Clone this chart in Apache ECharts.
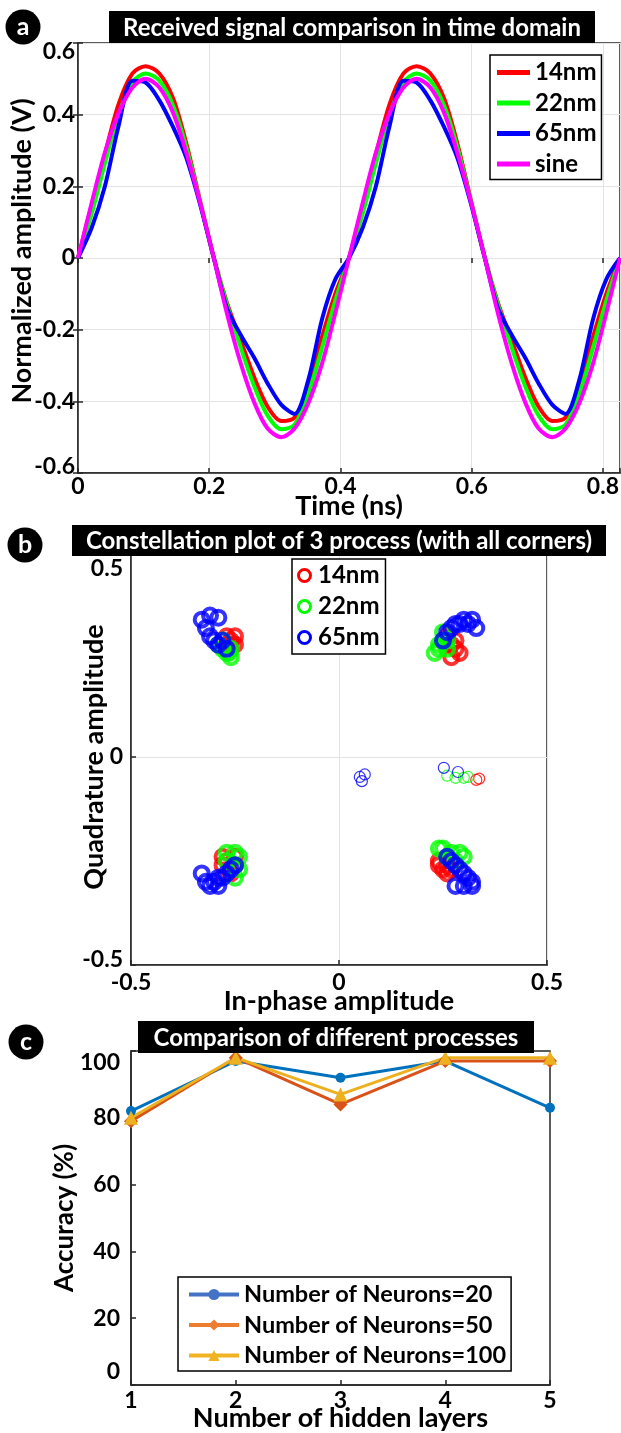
<!DOCTYPE html>
<html>
<head>
<meta charset="utf-8">
<script src="https://cdn.jsdelivr.net/npm/echarts@6/dist/echarts.min.js"></script>
<style>
  html, body { margin: 0; padding: 0; background: #fff; }
  #chart { width: 621px; height: 1433px; }
</style>
</head>
<body>
<div id="chart"></div>
<script>
// ---- (a) received signal in time domain ----
var timeNs = [0, 0.021, 0.041, 0.062, 0.083, 0.103, 0.124, 0.145, 0.165, 0.186, 0.207, 0.227, 0.248, 0.269, 0.289, 0.310, 0.330, 0.351, 0.372, 0.392,
    0.413, 0.434, 0.454, 0.475, 0.496, 0.516, 0.537, 0.558, 0.578, 0.599, 0.620, 0.640, 0.661, 0.682, 0.702, 0.723, 0.743, 0.764, 0.785, 0.805, 0.826];
var amp14nm = [0, 0.147, 0.29, 0.43, 0.515, 0.535, 0.515, 0.445, 0.32, 0.16, 0, -0.125, -0.23, -0.335, -0.415, -0.455, -0.445, -0.36, -0.22, -0.10,
    0, 0.147, 0.29, 0.43, 0.515, 0.535, 0.515, 0.445, 0.32, 0.16, 0, -0.125, -0.23, -0.335, -0.415, -0.455, -0.445, -0.36, -0.22, -0.10, 0];
var amp22nm = [0, 0.125, 0.265, 0.40, 0.49, 0.515, 0.495, 0.425, 0.31, 0.155, 0, -0.13, -0.25, -0.36, -0.44, -0.478, -0.465, -0.38, -0.25, -0.12,
    0, 0.125, 0.265, 0.40, 0.49, 0.515, 0.495, 0.425, 0.31, 0.155, 0, -0.13, -0.25, -0.36, -0.44, -0.478, -0.465, -0.38, -0.25, -0.12, 0];
var amp65nm = [0, 0.085, 0.20, 0.37, 0.495, 0.49, 0.44, 0.365, 0.28, 0.15, 0, -0.14, -0.215, -0.28, -0.35, -0.41, -0.435, -0.34, -0.17, -0.06,
    0, 0.085, 0.20, 0.37, 0.495, 0.49, 0.44, 0.365, 0.28, 0.15, 0, -0.14, -0.215, -0.28, -0.35, -0.41, -0.435, -0.34, -0.17, -0.06, 0];
var ampSine = [0, 0.155, 0.294, 0.405, 0.476, 0.5, 0.476, 0.405, 0.294, 0.155, 0, -0.155, -0.294, -0.405, -0.476, -0.5, -0.476, -0.405, -0.294, -0.155,
    0, 0.155, 0.294, 0.405, 0.476, 0.5, 0.476, 0.405, 0.294, 0.155, 0, -0.155, -0.294, -0.405, -0.476, -0.5, -0.476, -0.405, -0.294, -0.155, 0];

// ---- (b) constellation points [I, Q] ----
var iq14nm = [[-0.27, 0.29], [-0.26, 0.28], [-0.25, 0.29], [-0.26, 0.27], [-0.25, 0.27], [-0.27, 0.27],
    [0.26, 0.29], [0.27, 0.27], [0.28, 0.26], [0.27, 0.24], [0.29, 0.25], [0.28, 0.28],
    [-0.28, -0.24], [-0.28, -0.26], [-0.27, -0.25], [-0.25, -0.24], [-0.25, -0.26], [-0.26, -0.28],
    [0.24, -0.25], [0.25, -0.27], [0.26, -0.28], [0.27, -0.27], [0.26, -0.26], [0.24, -0.26]];
var iq14nmOut = [[0.33, -0.055], [0.337, -0.052]];
var iq22nm = [[-0.29, 0.27], [-0.28, 0.26], [-0.27, 0.25], [-0.26, 0.24], [-0.26, 0.26], [-0.28, 0.28], [-0.265, 0.25],
    [0.23, 0.25], [0.24, 0.26], [0.24, 0.27], [0.25, 0.28], [0.26, 0.28], [0.25, 0.30], [0.26, 0.26],
    [-0.27, -0.23], [-0.25, -0.23], [-0.24, -0.24], [-0.25, -0.26], [-0.24, -0.27], [-0.25, -0.29], [-0.27, -0.25],
    [0.24, -0.22], [0.25, -0.22], [0.27, -0.23], [0.29, -0.23], [0.30, -0.24], [0.28, -0.25], [0.26, -0.24]];
var iq22nmOut = [[0.26, -0.045], [0.28, -0.05], [0.30, -0.05], [0.31, -0.048]];
var iq65nm = [[-0.33, 0.33], [-0.31, 0.34], [-0.29, 0.335], [-0.32, 0.31], [-0.31, 0.29], [-0.30, 0.28], [-0.29, 0.27], [-0.27, 0.26], [-0.28, 0.28],
    [0.25, 0.28], [0.26, 0.30], [0.27, 0.31], [0.28, 0.32], [0.29, 0.32], [0.30, 0.33], [0.32, 0.33], [0.33, 0.31], [0.31, 0.32],
    [-0.33, -0.28], [-0.32, -0.30], [-0.31, -0.31], [-0.30, -0.30], [-0.29, -0.29], [-0.28, -0.29], [-0.27, -0.28], [-0.26, -0.27], [-0.25, -0.26], [-0.29, -0.31],
    [0.26, -0.24], [0.27, -0.25], [0.28, -0.26], [0.29, -0.27], [0.30, -0.28], [0.31, -0.29], [0.32, -0.30], [0.28, -0.31], [0.30, -0.31], [0.32, -0.31]];
var iq65nmOut = [[0.05, -0.048], [0.062, -0.042], [0.055, -0.058], [0.252, -0.026], [0.286, -0.036]];

// ---- (c) accuracy vs hidden layers ----
var hiddenLayers = [1, 2, 3, 4, 5];
var acc20 = [82, 97, 92, 97, 83];
var acc50 = [79, 98, 84, 97, 97];
var acc100 = [80, 98, 87, 98, 98];

var FONT = 'Lato';
var AX = '#262626';

function pairs(xs, ys) {
    return xs.map(function (x, i) { return [x, ys[i]]; });
}
function num(v) {
    return String(parseFloat(v.toFixed(3)));
}
// moves the top / bottom tick labels a bit inwards, like the original figure
function edgeFmt(minV, maxV, step) {
    return function (v) {
        if (step && Math.abs(v / step - Math.round(v / step)) > 1e-6) return '';
        if (Math.abs(v - maxV) < 1e-9) return '{dn|' + num(v) + '}';
        if (Math.abs(v - minV) < 1e-9) return '{up|' + num(v) + '}';
        return num(v);
    };
}
function lab(dn, up, margin) {
    var base = {fontFamily: FONT, fontWeight: 'bold', fontSize: 23, color: '#000'};
    return {
        fontFamily: FONT, fontWeight: 'bold', fontSize: 23, color: '#000', margin: margin,
        rich: {
            dn: Object.assign({padding: [dn, 0, 0, 0]}, base),
            up: Object.assign({padding: [0, 0, up, 0]}, base)
        }
    };
}
function nameStyle(size, pad) {
    return {fontFamily: FONT, fontWeight: 'bold', fontSize: size, color: '#000', padding: pad || 0};
}
var tick = {inside: true, length: 5, lineStyle: {color: AX, width: 1.5}};
var axLine = {show: true, onZero: false, lineStyle: {color: AX, width: 1.5}};
var grid0 = {show: true, borderColor: AX, borderWidth: 1.5, outerBoundsMode: 'none', containLabel: false};
var gridLine = {show: true, lineStyle: {color: '#e3e3e3', width: 1}};

function titleBox(x, y, w, h, text) {
    return [
        {type: 'rect', z: 100, shape: {x: x, y: y, width: w, height: h}, style: {fill: '#000'}},
        {type: 'text', z: 101, x: x + w / 2, y: y + h / 2 + 1,
            style: {text: text, fill: '#fff', font: 'bold 24px ' + FONT, align: 'center', verticalAlign: 'middle'}}
    ];
}
function badge(cx, cy, t) {
    return [
        {type: 'circle', z: 100, shape: {cx: cx, cy: cy, r: 17.5}, style: {fill: '#000'}},
        {type: 'text', z: 101, x: cx, y: cy,
            style: {text: t, fill: '#fff', font: 'bold 25px ' + FONT, align: 'center', verticalAlign: 'middle'}}
    ];
}
function lineSeries(name, data, color) {
    return {
        name: name, type: 'line', xAxisIndex: 0, yAxisIndex: 0, data: data,
        showSymbol: false, smooth: 0.3, color: color,
        lineStyle: {width: 4, color: color}
    };
}
function dots(name, data, color, size, bw) {
    return {
        name: name, type: 'scatter', xAxisIndex: 2, yAxisIndex: 2, data: data,
        symbol: 'circle', symbolSize: size, color: color,
        itemStyle: {color: 'rgba(0,0,0,0)', borderColor: color, borderWidth: bw}
    };
}
function accSeries(name, data, color, symbol, size) {
    return {
        name: name, type: 'line', xAxisIndex: 3, yAxisIndex: 3, data: data,
        symbol: symbol, symbolSize: size, showSymbol: true, color: color,
        lineStyle: {width: 3, color: color}, itemStyle: {color: color}
    };
}

var myChart = echarts.init(document.getElementById('chart'));

var option = {
    animation: false,
    backgroundColor: '#fff',
    grid: [
        Object.assign({left: 78, right: 1, top: 43, bottom: 960}, grid0),
        Object.assign({left: 131, right: 74, top: 549, bottom: 468}, grid0),
        Object.assign({left: 131, right: 71, top: 1051, bottom: 48}, grid0)
    ],
    xAxis: [
        {
            gridIndex: 0, type: 'value', min: 0, max: 0.826, interval: 0.2,
            name: 'Time (ns)', nameLocation: 'middle', nameGap: 20, nameMoveOverlap: false,
            nameTextStyle: nameStyle(27),
            axisLine: axLine, axisTick: tick,
            axisLabel: Object.assign(lab(0, 0, 2), {formatter: edgeFmt(-99, 99, 0.2)}),
            splitLine: gridLine
        },
        {
            gridIndex: 0, type: 'value', position: 'top', min: 0, max: 0.826, interval: 0.2,
            axisLine: {show: false}, axisTick: tick, axisLabel: {show: false}, splitLine: {show: false}
        },
        {
            gridIndex: 1, type: 'value', min: -0.5, max: 0.5, interval: 0.5,
            name: 'In-phase amplitude', nameLocation: 'middle', nameGap: 23, nameMoveOverlap: false,
            nameTextStyle: nameStyle(27),
            axisLine: axLine, axisTick: tick,
            axisLabel: Object.assign(lab(0, 0, 6), {formatter: edgeFmt(-99, 99)}),
            splitLine: gridLine
        },
        {
            gridIndex: 2, type: 'value', min: 1, max: 5, interval: 1,
            name: 'Number of hidden layers', nameLocation: 'middle', nameGap: 20, nameMoveOverlap: false,
            nameTextStyle: nameStyle(27),
            axisLine: axLine, axisTick: tick,
            axisLabel: Object.assign(lab(0, 0, 4), {formatter: edgeFmt(-99, 99)}),
            splitLine: {show: false}
        }
    ],
    yAxis: [
        {
            gridIndex: 0, type: 'value', min: -0.6, max: 0.6, interval: 0.2,
            name: 'Normalized amplitude (V)', nameLocation: 'middle', nameGap: 42, nameMoveOverlap: false,
            nameTextStyle: nameStyle(27, [0, 0, 0, 14]),
            axisLine: axLine, axisTick: tick,
            axisLabel: Object.assign(lab(18, 12, 3), {formatter: edgeFmt(-0.6, 0.6)}),
            splitLine: gridLine
        },
        {
            gridIndex: 0, type: 'value', position: 'right', min: -0.6, max: 0.6, interval: 0.2,
            axisLine: {show: false}, axisTick: tick, axisLabel: {show: false}, splitLine: {show: false}
        },
        {
            gridIndex: 1, type: 'value', min: -0.5, max: 0.5, interval: 0.5,
            name: 'Quadrature amplitude', nameLocation: 'middle', nameGap: 23, nameMoveOverlap: false,
            nameTextStyle: nameStyle(27),
            axisLine: axLine, axisTick: tick,
            axisLabel: Object.assign(lab(40, 10, 8), {formatter: edgeFmt(-0.5, 0.5)}),
            splitLine: gridLine
        },
        {
            gridIndex: 2, type: 'value', min: 0, max: 100, interval: 20,
            name: 'Accuracy (%)', nameLocation: 'middle', nameGap: 53, nameMoveOverlap: false,
            nameTextStyle: nameStyle(26),
            axisLine: axLine, axisTick: tick,
            axisLabel: Object.assign(lab(24, 26, 11), {formatter: edgeFmt(0, 100)}),
            splitLine: {show: false}
        }
    ],
    legend: [
        {
            orient: 'vertical', left: 490, top: 55, icon: 'rect', itemWidth: 33, itemHeight: 5, itemGap: 5.5,
            padding: [5, 5, 3, 7], borderColor: '#000', borderWidth: 1.5, backgroundColor: '#fff',
            textStyle: {fontFamily: FONT, fontWeight: 'bold', fontSize: 24, color: '#000', lineHeight: 25},
            data: ['14nm', '22nm', '65nm', 'sine']
        },
        {
            orient: 'vertical', left: 292, top: 559, itemWidth: 17, itemHeight: 12, itemGap: 6,
            padding: [4, 6, 4, 5], borderColor: '#000', borderWidth: 1.5, backgroundColor: '#fff',
            textStyle: {fontFamily: FONT, fontWeight: 'bold', fontSize: 24, color: '#000', lineHeight: 25},
            data: [
                {name: '14nm', icon: 'circle', itemStyle: {color: 'rgba(0,0,0,0)', borderColor: '#ff0000', borderWidth: 3}},
                {name: '22nm', icon: 'circle', itemStyle: {color: 'rgba(0,0,0,0)', borderColor: '#00ff00', borderWidth: 3}},
                {name: '65nm', icon: 'circle', itemStyle: {color: 'rgba(0,0,0,0)', borderColor: '#0000ff', borderWidth: 3}}
            ]
        },
        {
            orient: 'vertical', left: 178, top: 1277, itemWidth: 50, itemHeight: 14, itemGap: 5.5,
            padding: [5, 5, 3, 9], borderColor: '#000', borderWidth: 1.5, backgroundColor: '#fff',
            textStyle: {fontFamily: FONT, fontWeight: 'bold', fontSize: 23.5, color: '#000', lineHeight: 25},
            data: [
                {name: 'Number of Neurons=20', itemStyle: {color: '#4472C4'}, lineStyle: {color: '#4472C4', width: 4}},
                {name: 'Number of Neurons=50', itemStyle: {color: '#ED7D31'}, lineStyle: {color: '#ED7D31', width: 4}},
                {name: 'Number of Neurons=100', itemStyle: {color: '#EFB324'}, lineStyle: {color: '#EFB324', width: 4}}
            ]
        }
    ],
    graphic: [].concat(
        badge(23, 27, 'a'), titleBox(109, 11, 486, 32, 'Received signal comparison in time domain'),
        badge(25, 545, 'b'), titleBox(72, 525, 534, 31, 'Constellation plot of 3 process (with all corners)'),
        badge(26, 1042, 'c'), titleBox(138, 1021, 396, 32, 'Comparison of different processes')
    ),
    series: [
        lineSeries('14nm', pairs(timeNs, amp14nm), '#ff0000'),
        lineSeries('22nm', pairs(timeNs, amp22nm), '#00ff00'),
        lineSeries('65nm', pairs(timeNs, amp65nm), '#0000ff'),
        lineSeries('sine', pairs(timeNs, ampSine), '#ff00ff'),

        dots('14nm', iq14nm, '#ff0000', 14, 4),
        dots('14nm', iq14nmOut, '#ff0000', 11, 1.2),
        dots('22nm', iq22nm, '#00ff00', 14, 4),
        dots('22nm', iq22nmOut, '#00ff00', 11, 1.2),
        dots('65nm', iq65nm, '#0000ff', 14, 4),
        dots('65nm', iq65nmOut, '#0000ff', 11, 1.2),

        accSeries('Number of Neurons=20', pairs(hiddenLayers, acc20), '#0072BD', 'circle', 10),
        accSeries('Number of Neurons=50', pairs(hiddenLayers, acc50), '#D95319', 'diamond', 14),
        accSeries('Number of Neurons=100', pairs(hiddenLayers, acc100), '#EDB120', 'triangle', 14)
    ]
};

myChart.setOption(option);
</script>
</body>
</html>
